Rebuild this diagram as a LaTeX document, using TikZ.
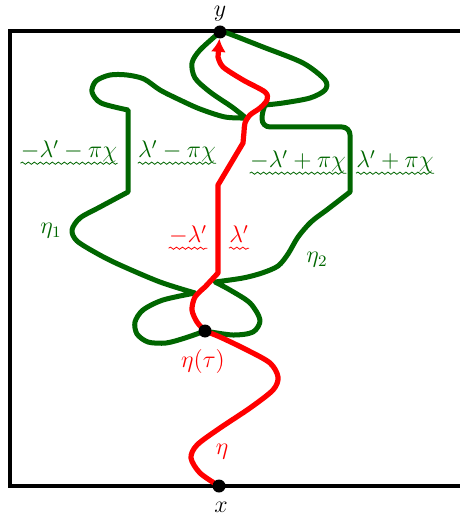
\documentclass[tikz,border=0pt]{standalone}
\usetikzlibrary{arrows.meta,backgrounds,decorations.pathmorphing}
\definecolor{flowgreen}{RGB}{0,102,0}

\begin{document}
\begin{tikzpicture}[x=0.5pt,y=-0.5pt,>=Latex,font=\large,
    frame/.style={line width=2pt,line cap=butt},
    flowline/.style={flowgreen,line width=2.5pt,line join=round},
    sle/.style={red,line width=2.6pt,line join=round},
    dot/.style={circle,fill=black,inner sep=0pt,minimum size=6.5pt},
    greenlab/.style={text=flowgreen},
    redlab/.style={text=red},
    wavelab/.style={anchor=base,inner xsep=0pt},
    wave/.style={line width=0.4pt,decorate,decoration={snake,amplitude=0.55pt,segment length=3pt}}]
  \useasboundingbox (0,0) rectangle (459,517);
  \node[dot] (ptY) at (220,32) {};
  \node[dot] (ptX) at (219,486) {};
  \node[dot] (tau) at (205,331) {};
  \node[anchor=base,inner sep=0pt] (ylab) at (220,17) {$y$};
  \node[anchor=base,inner sep=0pt] (xlab) at (221,512) {$x$};
  \node[redlab] (taulab) at (203,361) {$\eta(\tau)$};
  \node[redlab] (etalab) at (222,452) {$\eta$};
  \node[greenlab] (etaA) at (51,231) {$\eta_1$};
  \node[greenlab] (etaB) at (317,260) {$\eta_2$};
  \node[greenlab,wavelab] (labA) at (69,158) {$-\lambda'-\pi\chi$};
  \node[greenlab,wavelab] (labB) at (177,158) {$\lambda'-\pi\chi$};
  \node[greenlab,wavelab] (labC) at (298,168) {$-\lambda'+\pi\chi$};
  \node[greenlab,wavelab] (labD) at (395,168) {$\lambda'+\pi\chi$};
  \node[redlab,wavelab] (labE) at (188,243) {$-\lambda'$};
  \node[redlab,wavelab] (labF) at (239,243) {$\lambda'$};
  \foreach \lab in {labA,labB,labC,labD}
    \draw[wave,flowgreen] ([yshift=-2.6pt]\lab.base west) -- ([yshift=-2.6pt]\lab.base east);
  \foreach \lab in {labE,labF}
    \draw[wave,red] ([yshift=-2.6pt]\lab.base west) -- ([yshift=-2.6pt]\lab.base east);
  \begin{scope}[on background layer]
    \draw[frame] (462,31) -- (10,31) -- (10,486) -- (462,486);
    % eta_1
    \draw[flowline] plot[smooth] coordinates {(tau.center) (185,338) (166,343) (148,342) (137,334)
        (135,322) (143,310) (163,300) (195,293)}
      -- plot[smooth] coordinates {(195,293) (160,282) (120,265) (98,254) (77,241) (72,230)
        (80,218) (100,207) (128,192)}
      -- (128,110)
      -- plot[smooth] coordinates {(128,110) (101,103) (92,92) (96,81) (110,75) (127,75)
        (144,79) (160,90) (180,100) (200,109) (225,117) (246,118)}
      -- plot[smooth] coordinates {(246,118) (232,107) (210,92) (195,78) (192,63) (200,50)
        (ptY.center)};
    % eta_2
    \draw[flowline] plot[smooth] coordinates {(tau.center) (233,335) (253,332) (260,320)
        (250,303) (230,290) (215,282)}
      -- plot[smooth] coordinates {(215,282) (243,278) (262,273) (278,266) (288,254) (298,237)
        (311,222) (328,209) (350,192)}
      [rounded corners=4pt] -- (350,127) -- (262,127) -- (262,110) [sharp corners] -- (265,105)
      -- plot[smooth] coordinates {(265,105) (283,103) (310,98) (325,90) (325,80) (303,63)
        (263,47) (227,33) (ptY.center)};
    % eta
    \draw[sle] plot[smooth] coordinates {(ptX.center) (200,473) (191,458) (197,445) (220,428)
        (250,408) (273,390) (278,377) (270,363) (247,350) (220,337) (tau.center)};
    \draw[sle,-{Latex[length=6.5pt,width=7.5pt]}] plot[smooth] coordinates {(tau.center) (197,322)
        (192,310) (195,297) (205,287)}
      -- (218,273) -- (218,185) -- (243,143)
      -- plot[smooth] coordinates {(243,143) (244,132) (245,123) (250,115) (260,108) (267,100)
        (265,92) (243,80) (223,67) (218,57)}
      -- (ptY);
  \end{scope}
\end{tikzpicture}
\end{document}
